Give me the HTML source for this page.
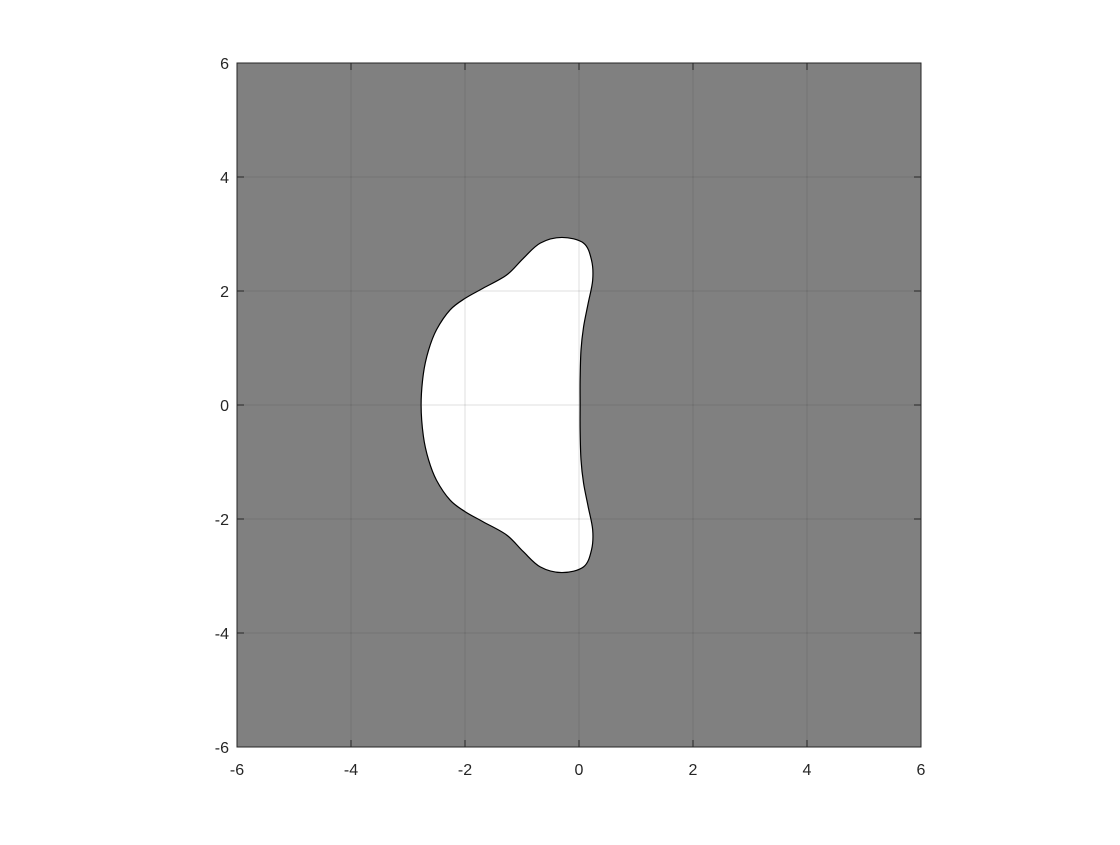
<!DOCTYPE html>
<html><head><meta charset="utf-8"><style>
body{margin:0;background:#fff;}
svg text{font-family:"Liberation Sans",sans-serif;font-size:16px;fill:#262626;}
</style></head><body>
<svg id="chart" width="1120" height="840" viewBox="0 0 1120 840" xmlns="http://www.w3.org/2000/svg"></svg>
<script>
const xTicks=[-6,-4,-2,0,2,4,6];
const yTicks=[-6,-4,-2,0,2,4,6];
// upper-half boundary points (real, imag), mirrored for lower half
const boundaryRe=[0.02,0.02,0.035,0.08,0.16,0.24,0.22,0.08,-0.3,-0.68,-0.98,-1.27,-1.68,-2.0,-2.26,-2.5,-2.64,-2.73,-2.77];
const boundaryIm=[0.0,0.44,0.96,1.37,1.78,2.19,2.54,2.84,2.94,2.84,2.57,2.28,2.05,1.87,1.67,1.32,0.96,0.55,0.0];
const L=237,R=921,T=63,B=747;
const sx=v=>L+(v+6)/12*(R-L), sy=v=>B-(v+6)/12*(B-T);
const NS='http://www.w3.org/2000/svg', svg=document.getElementById('chart');
function mk(tag,a){const e=document.createElementNS(NS,tag);for(const k in a)e.setAttribute(k,a[k]);svg.appendChild(e);return e;}
const bg=mk('rect',{x:L,y:T,width:R-L,height:B-T,fill:'#808080'});


let pts=[];
for(let i=0;i<boundaryRe.length;i++)pts.push([sx(boundaryRe[i]),sy(boundaryIm[i])]);
for(let i=boundaryRe.length-2;i>0;i--)pts.push([sx(boundaryRe[i]),sy(-boundaryIm[i])]);
let n=pts.length,d='M'+pts[0][0]+','+pts[0][1];
for(let i=0;i<n;i++){const p0=pts[(i-1+n)%n],p1=pts[i],p2=pts[(i+1)%n],p3=pts[(i+2)%n];
 d+=' C'+(p1[0]+(p2[0]-p0[0])/6)+','+(p1[1]+(p2[1]-p0[1])/6)+' '+(p2[0]-(p3[0]-p1[0])/6)+','+(p2[1]-(p3[1]-p1[1])/6)+' '+p2[0]+','+p2[1];}
const sh=mk('path',{d:d+'Z',fill:'#fff',stroke:'#000','stroke-width':1.2});


xTicks.forEach(v=>{const g=mk('line',{x1:sx(v),x2:sx(v),y1:T,y2:B,stroke:'#262626','stroke-opacity':0.15});
 
 
 mk('line',{x1:sx(v),x2:sx(v),y1:B,y2:B-7,stroke:'#262626'});
 mk('line',{x1:sx(v),x2:sx(v),y1:T,y2:T+7,stroke:'#262626'});
 const t=mk('text',{x:sx(v),y:B+28,'text-anchor':'middle'});t.textContent=v;
 
 });
yTicks.forEach(v=>{const g=mk('line',{x1:L,x2:R,y1:sy(v),y2:sy(v),stroke:'#262626','stroke-opacity':0.15});
 
 
 mk('line',{x1:L,x2:L+7,y1:sy(v),y2:sy(v),stroke:'#262626'});
 mk('line',{x1:R,x2:R-7,y1:sy(v),y2:sy(v),stroke:'#262626'});
 const t=mk('text',{x:L-8,y:sy(v)+6,'text-anchor':'end'});t.textContent=v;
 
 });
const fr=mk('rect',{x:L,y:T,width:R-L,height:B-T,fill:'none',stroke:'#262626','stroke-width':1});


</script>
</body></html>
